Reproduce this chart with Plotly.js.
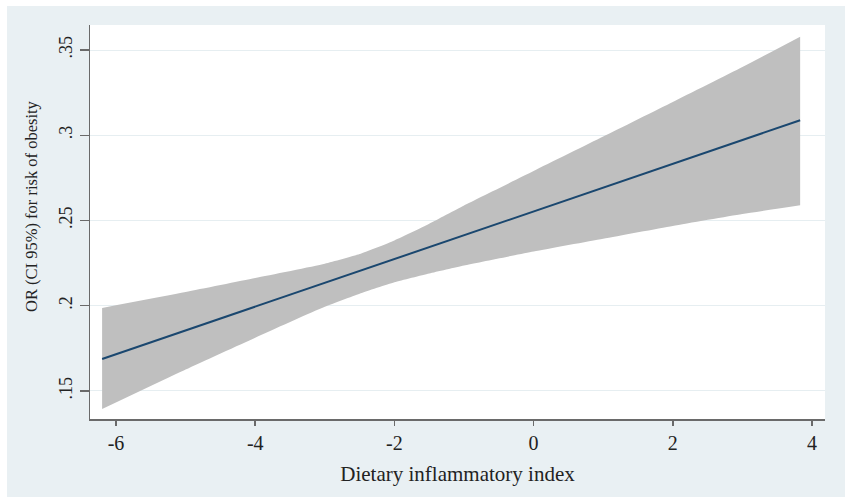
<!DOCTYPE html>
<html>
<head>
<meta charset="utf-8">
<script src="https://cdn.plot.ly/plotly-3.0.1.min.js"></script>
<style>
  html, body { margin: 0; padding: 0; background: #ffffff; width: 850px; height: 498px; overflow: hidden; }
  #chart { position: absolute; left: 7px; top: 6px; width: 838px; height: 491px; }
</style>
</head>
<body>
<div id="chart"></div>
<script>
// Dietary inflammatory index values
const dii = [-6.2, -5, -4, -3, -2.5, -2, -1.5, -1, 0, 1, 2, 3, 3.83];
// Predicted OR / risk of obesity
const fitted = [0.1687, 0.1855, 0.1995, 0.2134, 0.2204, 0.2274, 0.2344, 0.2414, 0.2554, 0.2694, 0.2833, 0.2973, 0.3088];
// 95% CI upper bound
const ciUpper = [0.1987, 0.2080, 0.2162, 0.2246, 0.2303, 0.2383, 0.2481, 0.2588, 0.2790, 0.2992, 0.3195, 0.3400, 0.3578];
// 95% CI lower bound
const ciLower = [0.1393, 0.1625, 0.1812, 0.1993, 0.2070, 0.2137, 0.2189, 0.2236, 0.2318, 0.2393, 0.2468, 0.2538, 0.2590];

const yTickVals = [0.15, 0.2, 0.25, 0.3, 0.35];
const yTickText = ['.15', '.2', '.25', '.3', '.35'];
const xTickVals = [-6, -4, -2, 0, 2, 4];
const xTickText = ['-6', '-4', '-2', '0', '2', '4'];

const traces = [
  {
    x: dii, y: ciLower, type: 'scatter', mode: 'lines',
    line: { width: 0, color: '#bfbfbf', shape: 'spline', smoothing: 0.5 },
    hoverinfo: 'skip', showlegend: false
  },
  {
    x: dii, y: ciUpper, type: 'scatter', mode: 'lines',
    fill: 'tonexty', fillcolor: '#bfbfbf',
    line: { width: 0, color: '#bfbfbf', shape: 'spline', smoothing: 0.5 },
    hoverinfo: 'skip', showlegend: false
  },
  {
    x: dii, y: fitted, type: 'scatter', mode: 'lines',
    line: { color: '#1a476f', width: 2 },
    showlegend: false
  }
];

const serif = 'Liberation Serif, Times New Roman, serif';

const layout = {
  width: 838, height: 491,
  paper_bgcolor: '#e9f0f3',
  plot_bgcolor: '#ffffff',
  margin: { l: 83, r: 20, t: 19, b: 78, pad: 0 },
  font: { family: serif, color: '#222222' },
  showlegend: false,
  xaxis: {
    range: [-6.374, 4.187],
    tickvals: xTickVals, ticktext: xTickText,
    ticks: 'outside', ticklen: 5, tickwidth: 1.5, tickcolor: '#6a6a6a',
    showline: true, linecolor: '#6a6a6a', linewidth: 1.5,
    showgrid: false, zeroline: false,
    tickfont: { family: serif, size: 20, color: '#222222' },
    title: { text: 'Dietary inflammatory index', font: { family: serif, size: 21, color: '#222222' }, standoff: 14 },
    automargin: false
  },
  yaxis: {
    range: [0.1335, 0.3647],
    tickvals: yTickVals, ticktext: yTickText,
    tickangle: -90,
    ticks: 'outside', ticklen: 9, tickwidth: 1.5, tickcolor: '#6a6a6a',
    showline: true, linecolor: '#6a6a6a', linewidth: 1.5,
    showgrid: true, gridcolor: '#e6eef1', gridwidth: 1,
    zeroline: false,
    tickfont: { family: serif, size: 18, color: '#222222' },
    automargin: false
  },
  annotations: [
    {
      text: 'OR (CI 95%) for risk of obesity',
      xref: 'paper', yref: 'paper', x: -0.0803, y: 0.5406,
      xanchor: 'center', yanchor: 'middle', textangle: -90,
      showarrow: false,
      font: { family: serif, size: 16.5, color: '#222222' }
    }
  ]
};

Plotly.newPlot('chart', traces, layout, { staticPlot: true, displayModeBar: false });
</script>
</body>
</html>
